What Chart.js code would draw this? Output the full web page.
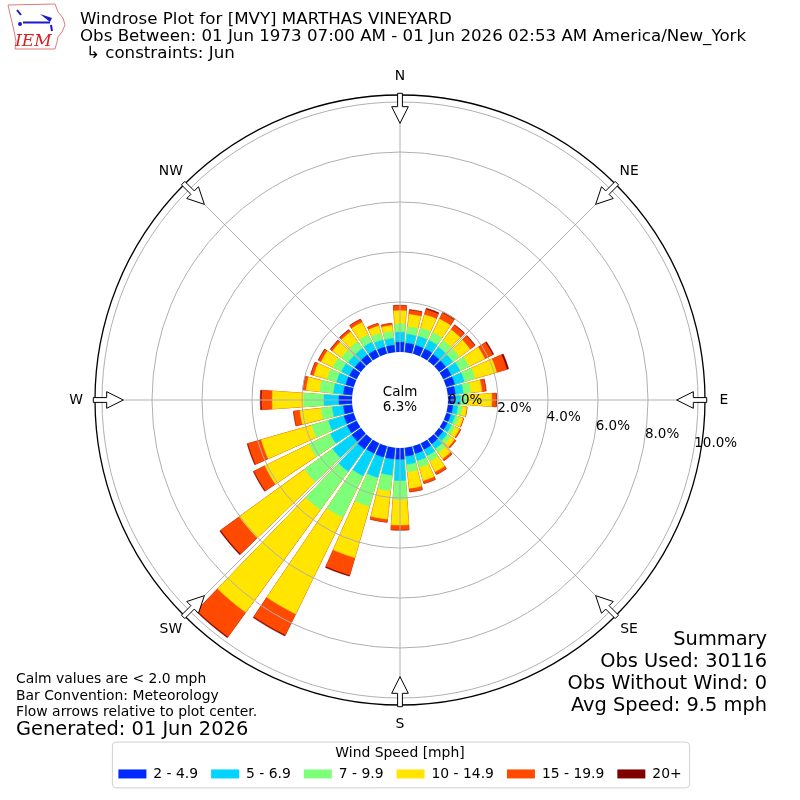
<!DOCTYPE html>
<html>
<head>
<meta charset="utf-8">
<title>Windrose Plot for [MVY] MARTHAS VINEYARD</title>
<script src="https://cdn.jsdelivr.net/npm/chart.js@4.4.1/dist/chart.umd.min.js"></script>
<style>
  html, body { margin: 0; padding: 0; background: #fff; }
  #wrap { width: 800px; height: 800px; }
</style>
</head>
<body>
<div id="wrap"><canvas id="rose" width="800" height="800"></canvas></div>
<script>
// wind direction (deg, where the wind comes from)
const directions = [0,10,20,30,40,50,60,70,80,90,100,110,120,130,140,150,160,170,
                    180,190,200,210,220,230,240,250,260,270,280,290,300,310,320,330,340,350];
const speedBins = ['2 - 4.9', '5 - 6.9', '7 - 9.9', '10 - 14.9', '15 - 19.9', '20+'];
const binColors = ['#0028ff', '#00d4ff', '#7dff7a', '#ffe500', '#ff4a00', '#800000'];

// percent of all obs, per direction, one list per speed bin
const pct2to5   = [.39,.36,.35,.35,.33,.33,.35,.35,.30,.25,.20,.18,.18,.20,.24,.27,.30,.33,
                   .45,.45,.45,.45,.50,.45,.42,.40,.35,.52,.35,.33,.32,.30,.30,.30,.28,.28];
const pct5to7   = [.40,.36,.38,.38,.36,.35,.40,.40,.32,.25,.20,.18,.18,.20,.24,.28,.30,.33,
                   .85,.65,.85,1.00,1.10,.95,.75,.65,.45,.60,.40,.38,.36,.33,.33,.35,.30,.28];
const pct7to10  = [.33,.30,.35,.35,.33,.33,.40,.45,.30,.26,.18,.16,.16,.17,.20,.25,.28,.30,
                   .75,.63,1.20,1.85,1.90,1.40,.95,.70,.45,.80,.55,.40,.38,.33,.33,.33,.28,.28];
const pct10to15 = [.53,.50,.55,.60,.53,.53,.70,.90,.45,.99,.18,.18,.20,.20,.30,.47,.55,.67,
                   1.03,1.14,2.14,4.30,5.08,3.22,1.97,2.10,.85,1.27,.55,.55,.52,.45,.48,.55,.30,.24];
const pct15to20 = [.20,.17,.22,.27,.22,.23,.35,.42,.16,.17,.02,.03,.06,.07,.09,.12,.12,.14,
                   .19,.12,.72,.93,1.20,.92,.48,.55,.25,.42,.12,.12,.12,.10,.10,.13,.10,.08];
const pct20up   = [.02,.03,.05,.05,.03,.03,.05,.08,.02,.03,0,0,0,0,.01,.01,.01,.01,
                   .02,.01,.05,.05,.05,.05,.04,.04,.02,.06,.02,.02,.02,.02,.02,.02,.01,.01];

const calmPct = 6.3;
const radialTicks = [0, 2, 4, 6, 8, 10];
const compass = ['N', 'NE', 'E', 'SE', 'S', 'SW', 'W', 'NW'];

const R_MIN = -1.92, R_MAX = 10.28;   // room for the calm circle / outer frame
const BAR = 8, GAP = 2;               // degrees

// north bar is split in two halves so the rose starts at 0 deg
const arcAngles = [BAR / 2, GAP];
for (let d = 1; d < directions.length; d++) arcAngles.push(BAR, GAP);
arcAngles.push(BAR / 2);

const bins = [pct2to5, pct5to7, pct7to10, pct10to15, pct15to20, pct20up];
let running = directions.map(() => 0);
const datasets = bins.map((vals, k) => {
  running = running.map((r, d) => r + vals[d]);
  const cum = running.slice();
  const data = [cum[0], null];
  for (let d = 1; d < cum.length; d++) data.push(cum[d], null);
  data.push(cum[0]);
  return {
    label: speedBins[k],
    data,
    backgroundColor: binColors[k],
    borderColor: binColors[k],
    borderWidth: 0.5,
    angle: c => arcAngles[c.dataIndex]
  };
});

const F = "'DejaVu Sans'";
Chart.defaults.font.family = 'DejaVu Sans';
Chart.defaults.color = '#000';

function txt(ctx, s, x, y, size, align, base) {
  ctx.font = size + 'px ' + F;
  ctx.textAlign = align || 'left';
  ctx.textBaseline = base || 'middle';
  ctx.fillText(s, x, y);
}

function drawLogo(ctx) {
  ctx.save();
  ctx.strokeStyle = '#e07a7a';
  ctx.lineWidth = 1;
  const pts = [[8,5],[55,4],[58,12],[63,18],[65,25],[62,32],[58,37],[57,42],[55,49],
               [15,49],[16,41],[14,31],[12,22],[10,14]];
  ctx.beginPath();
  pts.forEach((p, i) => i ? ctx.lineTo(p[0], p[1]) : ctx.moveTo(p[0], p[1]));
  ctx.closePath();
  ctx.stroke();
  // wind barb
  ctx.strokeStyle = '#1a1acc';
  ctx.fillStyle = '#1a1acc';
  ctx.lineWidth = 2;
  ctx.beginPath();
  ctx.moveTo(23, 22.5); ctx.lineTo(50, 22.5);
  ctx.moveTo(17, 10); ctx.lineTo(21, 15);
  ctx.moveTo(51, 25); ctx.lineTo(52, 31);
  ctx.stroke();
  ctx.beginPath();
  ctx.moveTo(40, 14); ctx.lineTo(52, 18); ctx.lineTo(50, 22); ctx.closePath();
  ctx.fill();
  ctx.beginPath(); ctx.arc(20, 24, 2, 0, Math.PI * 2); ctx.fill();
  ctx.fillStyle = '#d42020';
  ctx.font = "italic 17px 'DejaVu Serif'";
  ctx.textAlign = 'left';
  ctx.textBaseline = 'alphabetic';
  ctx.fillText('IEM', 15, 46);
  ctx.restore();
}

const decor = {
  id: 'decor',
  afterDraw(chart) {
    const ctx = chart.ctx;
    const s = chart.scales.r;
    const cx = s.xCenter, cy = s.yCenter;
    const r0 = s.getDistanceFromCenterForValue(0);
    const R = s.drawingArea;
    ctx.save();

    // calm circle
    ctx.fillStyle = '#fff';
    ctx.beginPath(); ctx.arc(cx, cy, r0, 0, Math.PI * 2); ctx.fill();
    ctx.fillStyle = '#000';
    txt(ctx, 'Calm', cx, cy - 8, 13.5, 'center');
    txt(ctx, calmPct.toFixed(1) + '%', cx, cy + 7.5, 13.5, 'center');

    // radial tick labels, along a line 10 deg below east
    const a = 10 * Math.PI / 180;
    radialTicks.forEach(v => {
      const d = s.getDistanceFromCenterForValue(v) - r0;
      txt(ctx, v.toFixed(1) + '%', cx + r0 + d * Math.cos(a), cy + d * Math.sin(a), 13.5, 'left');
    });

    // flow arrows + compass labels
    compass.forEach((lab, i) => {
      const ang = s.getIndexAngle(i) - Math.PI / 2;
      const ux = Math.cos(ang), uy = Math.sin(ang), px = -uy, py = ux;
      const P = (t, w) => [cx + ux * t + px * w, cy + uy * t + py * w];
      const shape = [P(R + 1.7, -2.4), P(R - 11.7, -2.4), P(R - 11.7, -8.3), P(R - 28.3, 0),
                     P(R - 11.7, 8.3), P(R - 11.7, 2.4), P(R + 1.7, 2.4)];
      ctx.beginPath();
      shape.forEach((p, k) => k ? ctx.lineTo(p[0], p[1]) : ctx.moveTo(p[0], p[1]));
      ctx.closePath();
      ctx.fillStyle = '#fff';
      ctx.fill();
      ctx.strokeStyle = '#000';
      ctx.lineWidth = 1;
      ctx.stroke();
      const lp = s.getPointPosition(i, R + 19);
      ctx.fillStyle = '#000';
      txt(ctx, lab, lp.x, lp.y, 13.9, 'center');
    });

    // header
    drawLogo(ctx);
    ctx.fillStyle = '#000';
    txt(ctx, 'Windrose Plot for [MVY] MARTHAS VINEYARD', 80, 20, 16.67);
    txt(ctx, 'Obs Between: 01 Jun 1973 07:00 AM - 01 Jun 2026 02:53 AM America/New_York', 80, 36.7, 16.67);
    txt(ctx, '\u21b3 constraints: Jun', 86, 54, 16.67);

    // footer notes
    txt(ctx, 'Calm values are < 2.0 mph', 16, 679, 13.9);
    txt(ctx, 'Bar Convention: Meteorology', 16, 696, 13.9);
    txt(ctx, 'Flow arrows relative to plot center.', 16, 712, 13.9);
    txt(ctx, 'Generated: 01 Jun 2026', 16, 730, 19.4);

    txt(ctx, 'Summary', 767, 640, 19.4, 'right');
    txt(ctx, 'Obs Used: 30116', 767, 662, 19.4, 'right');
    txt(ctx, 'Obs Without Wind: 0', 767, 684, 19.4, 'right');
    txt(ctx, 'Avg Speed: 9.5 mph', 767, 706, 19.4, 'right');

    // legend frame
    const lg = chart.legend;
    const hb = lg.legendHitBoxes;
    const last = hb[hb.length - 1];
    const x0 = hb[0].left - 6, x1 = last.left + last.width + 8;
    const y0 = lg.top + 37, y1 = lg.bottom - 3;
    ctx.strokeStyle = '#d0d0d0';
    ctx.lineWidth = 1;
    ctx.beginPath();
    ctx.roundRect(x0, y0, x1 - x0, y1 - y0, 4);
    ctx.stroke();
    ctx.restore();
  }
};

new Chart(document.getElementById('rose'), {
  type: 'polarArea',
  data: { labels: compass, datasets },
  options: {
    responsive: false,
    devicePixelRatio: 1,
    animation: false,
    events: [],
    layout: { padding: { top: 95, left: 95, right: 95, bottom: 9.1 } },
    scales: {
      r: {
        min: R_MIN,
        max: R_MAX,
        startAngle: 0,
        beginAtZero: false,
        ticks: { display: false },
        pointLabels: { display: false },
        grid: {
          circular: true,
          z: 1,
          color: c => c.tick.value > 10 ? '#000' : (c.tick.value <= 0 ? 'rgba(0,0,0,0)' : '#b0b0b0'),
          lineWidth: c => c.tick.value > 10 ? 1.3 : 1
        },
        angleLines: { display: true, color: '#b0b0b0', lineWidth: 1 },
        afterBuildTicks: sc => { sc.ticks = radialTicks.concat([R_MAX]).map(v => ({ value: v })); }
      }
    },
    plugins: {
      tooltip: { enabled: false },
      legend: {
        position: 'bottom',
        title: {
          display: true,
          text: 'Wind Speed [mph]',
          font: { size: 13.9 },
          padding: { top: 41, bottom: -8.7 }
        },
        labels: {
          boxWidth: 28,
          boxHeight: 9,
          padding: 13,
          font: { size: 13.9 },
          generateLabels: ch => ch.data.datasets.map((ds, i) => ({
            text: ds.label,
            fillStyle: ds.backgroundColor,
            strokeStyle: ds.backgroundColor,
            lineWidth: 0,
            hidden: false,
            datasetIndex: i
          }))
        }
      }
    }
  },
  plugins: [decor]
});
</script>
</body>
</html>
